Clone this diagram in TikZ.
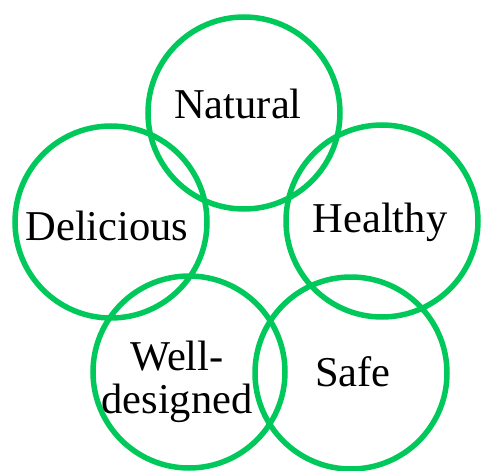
\documentclass[tikz,border=0pt]{standalone}
\usepackage{fontspec}
\setmainfont{Liberation Serif}

\definecolor{ringgreen}{RGB}{0,200,90}

\tikzset{
  ring/.style={draw=ringgreen, line width=5.5pt, circle, minimum size=192pt, inner sep=0pt},
  word/.style={anchor=base, inner sep=0pt, font=\fontsize{42.5}{43}\selectfont}
}

\begin{document}
\begin{tikzpicture}[x=1pt, y=-1pt]
  \useasboundingbox (0,0) rectangle (483,471);
  % the five rings
  \node[ring] (natural) at (244,113) {};
  \node[ring] (delicious) at (111,222) {};
  \node[ring] (healthy) at (382,221) {};
  \node[ring] (welldesigned) at (189,372) {};
  \node[ring] (safe) at (351,373) {};
  % their words
  \node[word] (tnatural) at (238,118) {Natural};
  \node[word] (tdelicious) at (107,240) {Delicious};
  \node[word] (thealthy) at (380,232) {Healthy};
  \node[word, align=center] (twelldesigned) at (177,413) {Well-\\designed};
  \node[word] (tsafe) at (353,386) {Safe};
\end{tikzpicture}
\end{document}
